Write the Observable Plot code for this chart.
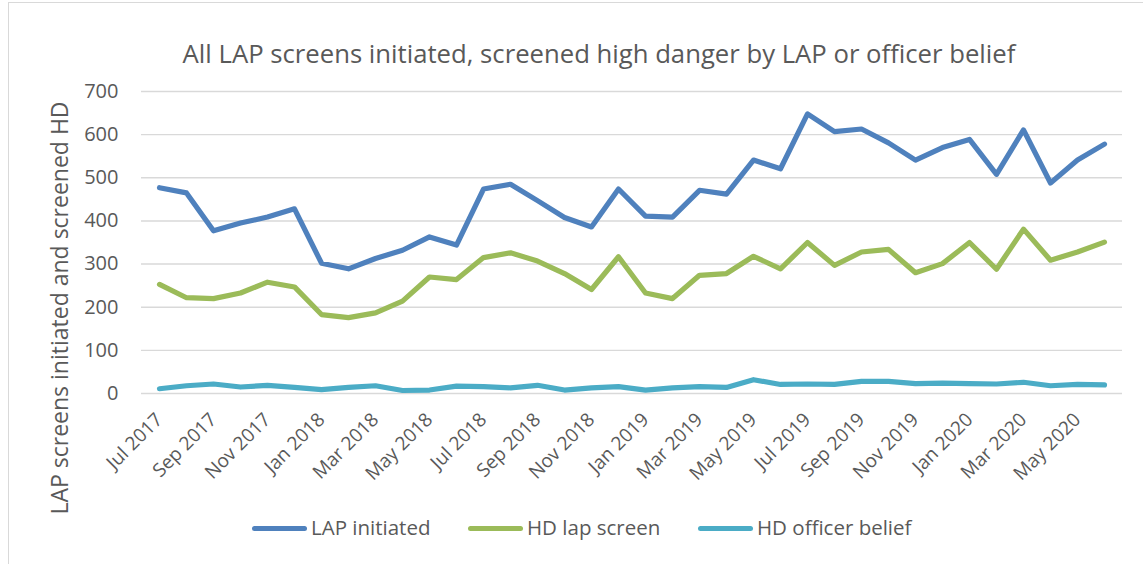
<!DOCTYPE html>
<html>
<head>
<meta charset="utf-8">
<script src="https://cdn.jsdelivr.net/npm/d3@7"></script>
<script src="https://cdn.jsdelivr.net/npm/@observablehq/plot@0.6"></script>
<style>
  html, body { margin: 0; padding: 0; background: #fff; }
  #wrap { position: relative; width: 1143px; height: 564px; overflow: hidden; font-family: "Open Sans", sans-serif; color: #595959; }
  #border { position: absolute; left: 8px; top: 2px; width: 1200px; height: 700px; border-left: 1.5px solid #d9d9d9; border-top: 1.5px solid #d9d9d9; }
  #title { position: absolute; left: 0; width: 1198px; top: 41px; text-align: center; font-size: 25.7px; line-height: 1; white-space: nowrap; }
  #ytitle { position: absolute; left: 59px; top: 308px; font-size: 23px; line-height: 1; white-space: nowrap; transform: translate(-50%, -50%) rotate(-90deg); }
  .leg { position: absolute; top: 517px; display: flex; align-items: center; font-size: 20.5px; line-height: 1; white-space: nowrap; }
  .sw { width: 55px; height: 5px; border-radius: 3px; margin-right: 4px; margin-top: 2px; }
  #plot { position: absolute; left: 0; top: 0; }
</style>
</head>
<body>
<div id="wrap">
  <div id="border"></div>
  <div id="plot"></div>
  <div id="title"></div>
  <div id="ytitle"></div>
  <div id="legend"></div>
</div>
<script>
const months = [
  "Jul 2017","Aug 2017","Sep 2017","Oct 2017","Nov 2017","Dec 2017",
  "Jan 2018","Feb 2018","Mar 2018","Apr 2018","May 2018","Jun 2018",
  "Jul 2018","Aug 2018","Sep 2018","Oct 2018","Nov 2018","Dec 2018",
  "Jan 2019","Feb 2019","Mar 2019","Apr 2019","May 2019","Jun 2019",
  "Jul 2019","Aug 2019","Sep 2019","Oct 2019","Nov 2019","Dec 2019",
  "Jan 2020","Feb 2020","Mar 2020","Apr 2020","May 2020","Jun 2020"
];
const tickLabels = [
  "Jul 2017","Sep 2017","Nov 2017","Jan 2018","Mar 2018","May 2018",
  "Jul 2018","Sep 2018","Nov 2018","Jan 2019","Mar 2019","May 2019",
  "Jul 2019","Sep 2019","Nov 2019","Jan 2020","Mar 2020","May 2020"
];
const yTicks = [0, 100, 200, 300, 400, 500, 600, 700];

const lapInitiated = [477,465,377,395,409,428,302,289,313,332,363,344,474,485,447,408,386,474,411,409,471,462,541,521,648,607,613,581,541,570,589,508,611,488,541,578];
const hdLapScreen = [253,222,220,233,258,247,183,176,187,214,270,264,315,326,307,278,241,317,233,220,274,278,318,289,350,297,328,334,280,301,350,288,381,309,328,351];
const hdOfficerBelief = [11,18,22,15,19,14,9,14,18,7,8,17,16,13,19,8,13,16,8,13,16,14,32,21,22,21,28,28,23,24,23,22,26,18,21,20];

const seriesNames = ["LAP initiated", "HD lap screen", "HD officer belief"];
const seriesColors = ["#4f81bd", "#9bbb59", "#4bacc6"];
const seriesValues = [lapInitiated, hdLapScreen, hdOfficerBelief];

const titleText = "All LAP screens initiated, screened high danger by LAP or officer belief";
const yTitleText = "LAP screens initiated and screened HD";

const rows = [];
seriesNames.forEach((name, s) => {
  seriesValues[s].forEach((v, i) => rows.push({series: name, month: months[i], value: v}));
});

const chart = Plot.plot({
  width: 1143,
  height: 564,
  marginLeft: 141,
  marginRight: 21,
  marginTop: 91,
  marginBottom: 171,
  style: { fontFamily: "Open Sans, sans-serif", color: "#595959", background: "transparent", overflow: "visible" },
  x: { type: "point", domain: months, padding: 0.5, label: null },
  y: { domain: [0, 700], label: null },
  color: { domain: seriesNames, range: seriesColors },
  marks: [
    Plot.gridY(yTicks, { stroke: "#d9d9d9", strokeOpacity: 1, strokeWidth: 1.4 }),
    Plot.axisY(yTicks, { tickSize: 0, tickPadding: 23, fontSize: 20, fill: "#595959", label: null }),
    Plot.axisX(tickLabels, { tickSize: 0, tickPadding: 23, tickRotate: -45, fontSize: 19, fill: "#595959", label: null }),
    Plot.line(rows, { x: "month", y: "value", z: "series", stroke: "series", strokeWidth: 5.2, strokeLinejoin: "round", strokeLinecap: "round" })
  ]
});
document.getElementById("plot").appendChild(chart);

document.getElementById("title").textContent = titleText;
document.getElementById("ytitle").textContent = yTitleText;

const legLefts = [252, 468, 698];
const legend = document.getElementById("legend");
seriesNames.forEach((name, i) => {
  const item = document.createElement("div");
  item.className = "leg";
  item.style.left = legLefts[i] + "px";
  const sw = document.createElement("span");
  sw.className = "sw";
  sw.style.background = seriesColors[i];
  const t = document.createElement("span");
  t.textContent = name;
  item.appendChild(sw);
  item.appendChild(t);
  legend.appendChild(item);
});
</script>
</body>
</html>
